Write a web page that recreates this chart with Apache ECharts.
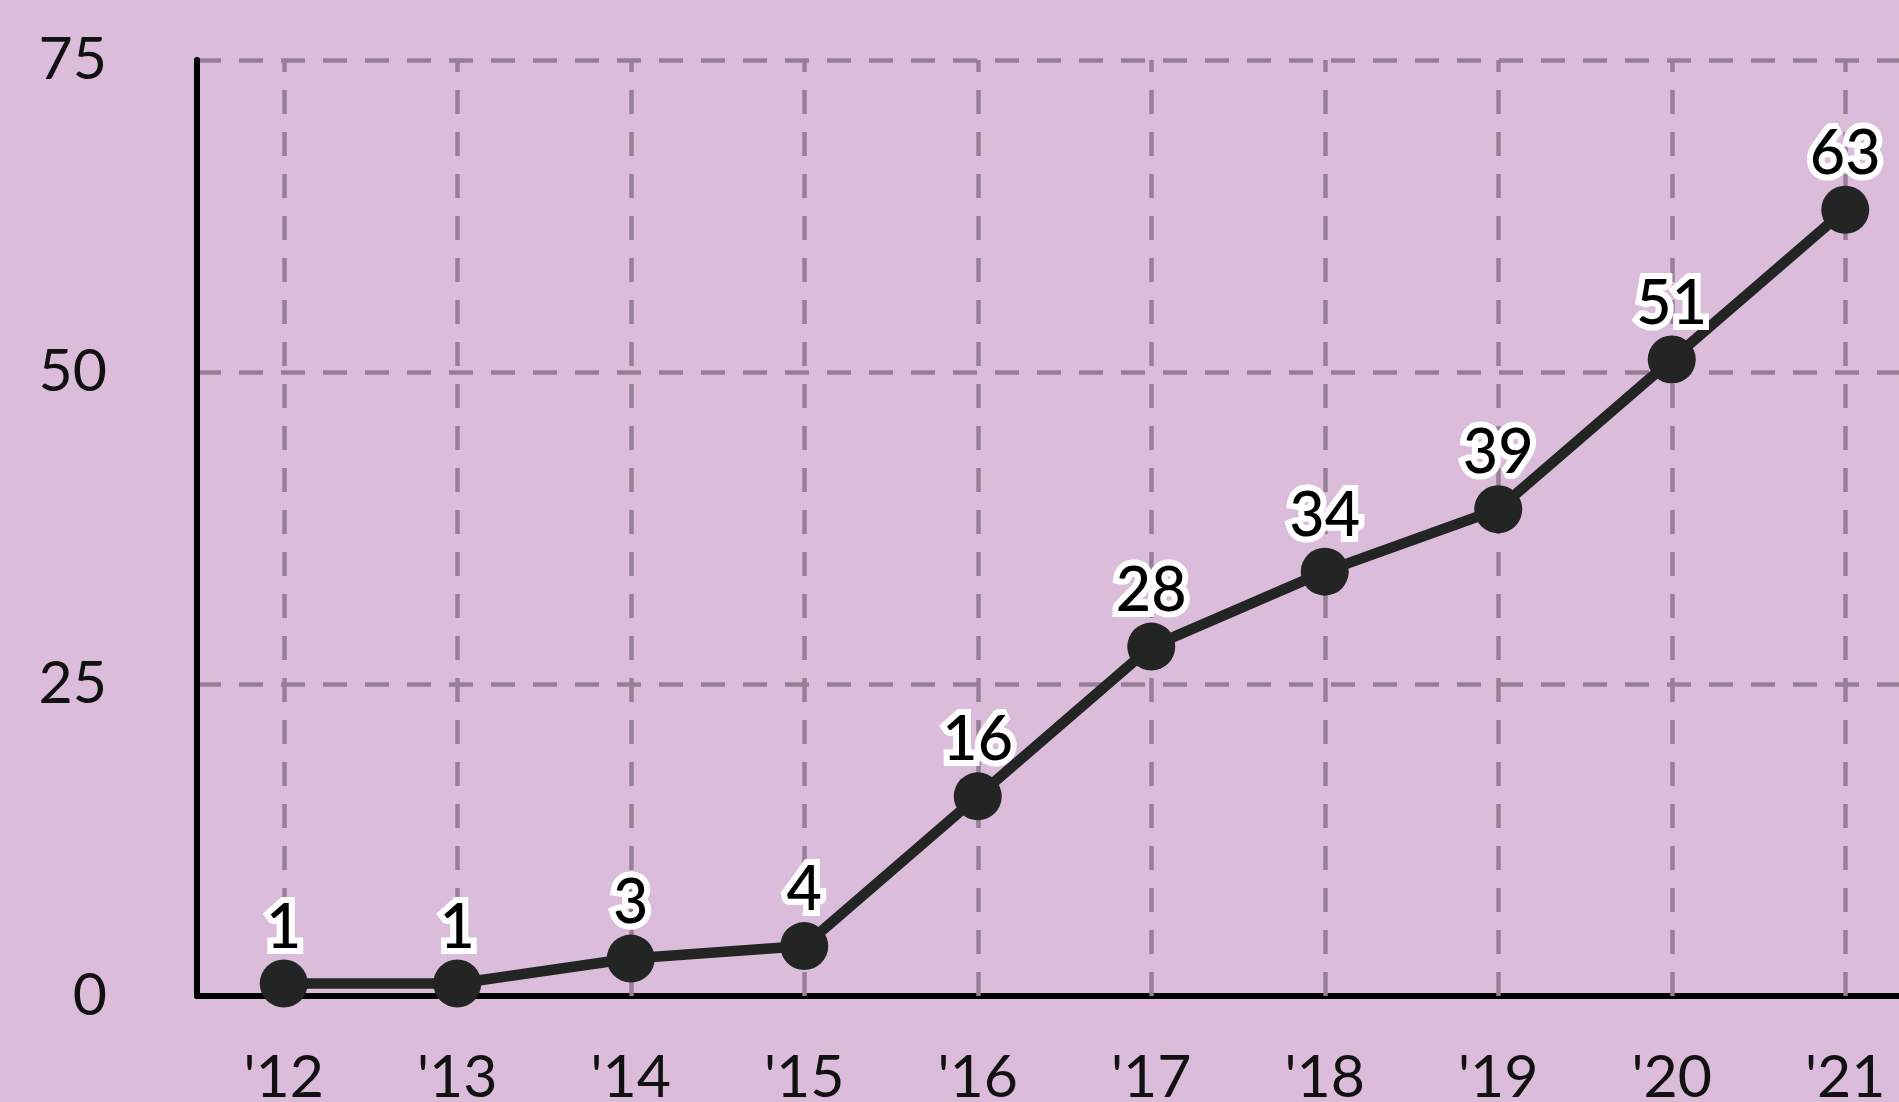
<!DOCTYPE html>
<html>
<head>
<meta charset="utf-8">
<script src="https://cdn.jsdelivr.net/npm/echarts@6/dist/echarts.min.js"></script>
<style>
html,body{margin:0;padding:0;background:#dbbddb;}
#chart{width:1899px;height:1102px;}
</style>
</head>
<body>
<div id="chart"></div>
<script>
const categories = ["'12","'13","'14","'15","'16","'17","'18","'19","'20","'21"];
const values = [1, 1, 3, 4, 16, 28, 34, 39, 51, 63];
const yTicks = { min: 0, max: 75, interval: 25 };

const gridColor = '#987f99';
const dash = [24, 18];
const font = 'Lato';

const chart = echarts.init(document.getElementById('chart'));
chart.setOption({
  animation: false,
  backgroundColor: '#dbbddb',
  grid: { left: 197, width: 1735, top: 60, height: 936, containLabel: false, outerBoundsMode: 'none' },
  xAxis: {
    type: 'category',
    data: categories,
    boundaryGap: true,
    axisLine: { show: true, lineStyle: { color: '#000', width: 6 } },
    axisTick: { show: false },
    splitLine: { show: false },
    axisLabel: { fontSize: 59, fontFamily: font, color: '#111', margin: 52 }
  },
  yAxis: {
    type: 'value',
    min: yTicks.min, max: yTicks.max, interval: yTicks.interval,
    axisLine: { show: true, lineStyle: { color: '#000', width: 6 } },
    axisTick: { show: false },
    splitLine: { show: true, lineStyle: { color: gridColor, width: 4.5, type: dash } },
    axisLabel: { fontSize: 59, fontFamily: font, color: '#111', margin: 90 }
  },
  series: [
    {
      type: 'line',
      data: [],
      z: 1,
      silent: true,
      markLine: {
        silent: true,
        symbol: 'none',
        label: { show: false },
        lineStyle: { color: gridColor, width: 4.5, type: dash },
        data: categories.map(c => ({ xAxis: c }))
      }
    },
    {
      type: 'line',
      data: values,
      z: 5,
      symbol: 'circle',
      symbolSize: 48,
      lineStyle: { color: '#232424', width: 10.5 },
      itemStyle: { color: '#232424' },
      label: {
        show: true,
        position: 'top',
        distance: 1,
        fontSize: 61,
        fontWeight: 500,
        fontFamily: font,
        color: '#000',
        textBorderColor: '#fff',
        textBorderWidth: 12
      }
    }
  ]
});
</script>
</body>
</html>
